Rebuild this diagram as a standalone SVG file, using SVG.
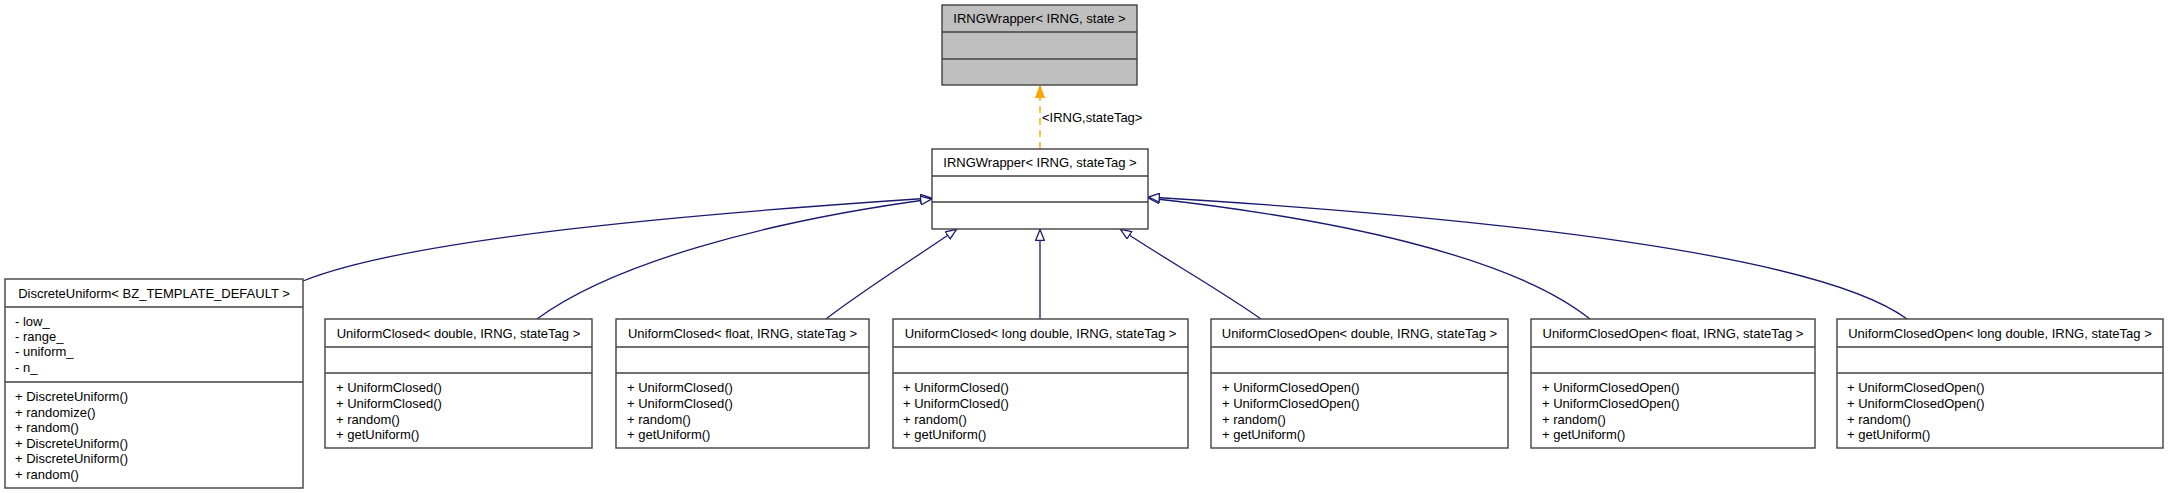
<svg xmlns="http://www.w3.org/2000/svg" width="2168" height="493" viewBox="0 0 2168 493">
<style>
.box{fill:#ffffff;stroke:#404040;stroke-width:1.4}
.grey{fill:#bfbfbf}
.div{stroke:#404040;stroke-width:1.4}
text{font-family:"Liberation Sans",Arial,sans-serif;font-size:13px;fill:#000}
.t{text-anchor:middle}
.e{fill:none;stroke:#191970;stroke-width:1.3}
.o{fill:none;stroke:#ffa500;stroke-width:1.4;stroke-dasharray:7,5}
</style>
<defs>
<marker id="inh" viewBox="0 0 12 10" refX="12" refY="5" markerWidth="12" markerHeight="10" markerUnits="userSpaceOnUse" orient="auto">
<path d="M0.7,0.7 L11.5,5 L0.7,9.3 Z" fill="#ffffff" stroke="#191970" stroke-width="1.3"/>
</marker>
<marker id="tpl" viewBox="0 0 12 10" refX="12" refY="5" markerWidth="12" markerHeight="10" markerUnits="userSpaceOnUse" orient="auto">
<path d="M0,0.5 L12,5 L0,9.5 Z" fill="#ffa500" stroke="#ffa500" stroke-width="1"/>
</marker>
</defs>
<g id="connectors">
<path class="o" d="M1040,149 L1040,86" marker-end="url(#tpl)"/>
<text x="1042" y="122">&lt;IRNG,stateTag&gt;</text>
<path class="e" d="M303,281 C410,238 690,214 932,198" marker-end="url(#inh)"/>
<path class="e" d="M537,319 C610,265 760,222 932,199" marker-end="url(#inh)"/>
<path class="e" d="M826,319 C865,289 915,258 957,229" marker-end="url(#inh)"/>
<path class="e" d="M1040,319 L1040,229" marker-end="url(#inh)"/>
<path class="e" d="M1261,319 C1220,290 1165,259 1120,229" marker-end="url(#inh)"/>
<path class="e" d="M1590,319 C1510,255 1330,218 1148,198" marker-end="url(#inh)"/>
<path class="e" d="M1907,319 C1820,255 1500,218 1148,197" marker-end="url(#inh)"/>
</g>
<g id="node-IRNGWrapper-state">
<rect class="box grey" x="942" y="5" width="195" height="80"/>
<line class="div" x1="942" y1="32" x2="1137" y2="32"/>
<line class="div" x1="942" y1="59" x2="1137" y2="59"/>
<text class="t" x="1039.5" y="23">IRNGWrapper&lt; IRNG, state &gt;</text>
</g>
<g id="node-IRNGWrapper-stateTag">
<rect class="box" x="932" y="149" width="216" height="80"/>
<line class="div" x1="932" y1="176" x2="1148" y2="176"/>
<line class="div" x1="932" y1="202" x2="1148" y2="202"/>
<text class="t" x="1040" y="167">IRNGWrapper&lt; IRNG, stateTag &gt;</text>
</g>
<g id="node-DiscreteUniform">
<rect class="box" x="5" y="279" width="298" height="209"/>
<line class="div" x1="5" y1="307" x2="303" y2="307"/>
<line class="div" x1="5" y1="382" x2="303" y2="382"/>
<text class="t" x="154" y="297.5">DiscreteUniform&lt; BZ_TEMPLATE_DEFAULT &gt;</text>
<text x="15" y="325.5">- low_</text>
<text x="15" y="341">- range_</text>
<text x="15" y="356">- uniform_</text>
<text x="15" y="371.5">- n_</text>
<text x="15" y="401">+ DiscreteUniform()</text>
<text x="15" y="416.5">+ randomize()</text>
<text x="15" y="432">+ random()</text>
<text x="15" y="447.5">+ DiscreteUniform()</text>
<text x="15" y="463">+ DiscreteUniform()</text>
<text x="15" y="478.5">+ random()</text>
</g>
<g id="node-UniformClosed-double">
<rect class="box" x="325" y="319" width="267" height="129"/>
<line class="div" x1="325" y1="347" x2="592" y2="347"/>
<line class="div" x1="325" y1="373" x2="592" y2="373"/>
<text class="t" x="458.5" y="337.5">UniformClosed&lt; double, IRNG, stateTag &gt;</text>
<text x="336" y="392">+ UniformClosed()</text>
<text x="336" y="408">+ UniformClosed()</text>
<text x="336" y="423.5">+ random()</text>
<text x="336" y="439">+ getUniform()</text>
</g>
<g id="node-UniformClosed-float">
<rect class="box" x="616" y="319" width="253" height="129"/>
<line class="div" x1="616" y1="347" x2="869" y2="347"/>
<line class="div" x1="616" y1="373" x2="869" y2="373"/>
<text class="t" x="742.5" y="337.5">UniformClosed&lt; float, IRNG, stateTag &gt;</text>
<text x="627" y="392">+ UniformClosed()</text>
<text x="627" y="408">+ UniformClosed()</text>
<text x="627" y="423.5">+ random()</text>
<text x="627" y="439">+ getUniform()</text>
</g>
<g id="node-UniformClosed-longdouble">
<rect class="box" x="893" y="319" width="295" height="129"/>
<line class="div" x1="893" y1="347" x2="1188" y2="347"/>
<line class="div" x1="893" y1="373" x2="1188" y2="373"/>
<text class="t" x="1040.5" y="337.5">UniformClosed&lt; long double, IRNG, stateTag &gt;</text>
<text x="903" y="392">+ UniformClosed()</text>
<text x="903" y="408">+ UniformClosed()</text>
<text x="903" y="423.5">+ random()</text>
<text x="903" y="439">+ getUniform()</text>
</g>
<g id="node-UniformClosedOpen-double">
<rect class="box" x="1211" y="319" width="297" height="129"/>
<line class="div" x1="1211" y1="347" x2="1508" y2="347"/>
<line class="div" x1="1211" y1="373" x2="1508" y2="373"/>
<text class="t" x="1359.5" y="337.5">UniformClosedOpen&lt; double, IRNG, stateTag &gt;</text>
<text x="1222" y="392">+ UniformClosedOpen()</text>
<text x="1222" y="408">+ UniformClosedOpen()</text>
<text x="1222" y="423.5">+ random()</text>
<text x="1222" y="439">+ getUniform()</text>
</g>
<g id="node-UniformClosedOpen-float">
<rect class="box" x="1531" y="319" width="284" height="129"/>
<line class="div" x1="1531" y1="347" x2="1815" y2="347"/>
<line class="div" x1="1531" y1="373" x2="1815" y2="373"/>
<text class="t" x="1673" y="337.5">UniformClosedOpen&lt; float, IRNG, stateTag &gt;</text>
<text x="1542" y="392">+ UniformClosedOpen()</text>
<text x="1542" y="408">+ UniformClosedOpen()</text>
<text x="1542" y="423.5">+ random()</text>
<text x="1542" y="439">+ getUniform()</text>
</g>
<g id="node-UniformClosedOpen-longdouble">
<rect class="box" x="1837" y="319" width="326" height="129"/>
<line class="div" x1="1837" y1="347" x2="2163" y2="347"/>
<line class="div" x1="1837" y1="373" x2="2163" y2="373"/>
<text class="t" x="2000" y="337.5">UniformClosedOpen&lt; long double, IRNG, stateTag &gt;</text>
<text x="1847" y="392">+ UniformClosedOpen()</text>
<text x="1847" y="408">+ UniformClosedOpen()</text>
<text x="1847" y="423.5">+ random()</text>
<text x="1847" y="439">+ getUniform()</text>
</g>
</svg>
